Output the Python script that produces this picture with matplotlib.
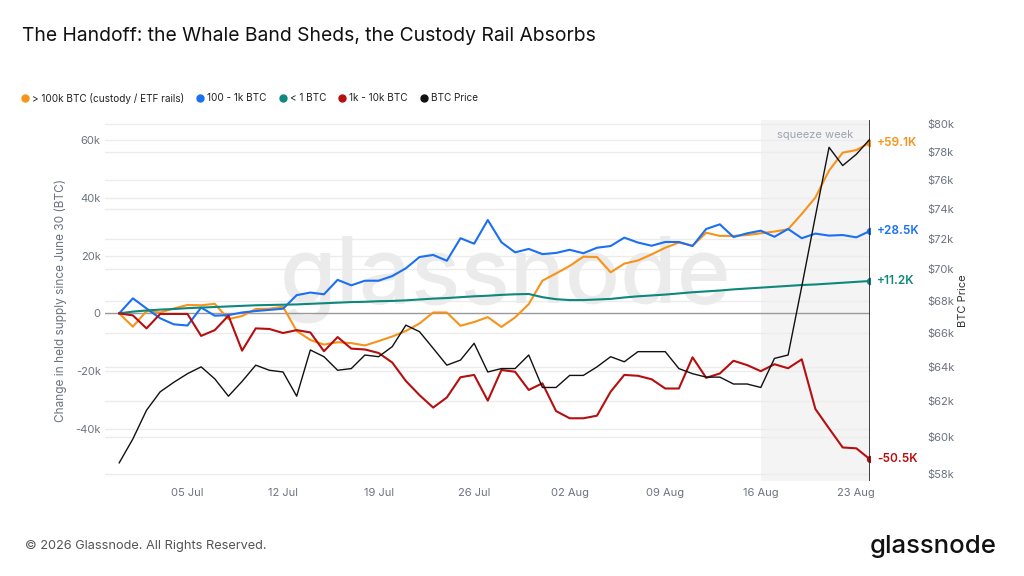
import numpy as np
import pandas as pd
import matplotlib
matplotlib.use("Agg")
import matplotlib.pyplot as plt
import matplotlib.transforms as mtransforms
from matplotlib.lines import Line2D
from matplotlib.ticker import FixedLocator, NullLocator

plt.rcParams['font.family'] = ['Inter', 'DejaVu Sans']

# ---------------- data ----------------
dates = pd.date_range('2026-06-30', periods=56, freq='D')

custody_100k = [0, -4.6, 0.8, 0.3, 1.7, 2.9, 2.8, 3.3, -2.0, -0.9,
                1.5, 1.6, 2.3, -6.1, -9.2, -10.8, -10.0, -10.3, -11.1, -9.6,
                -8.0, -6.1, -3.5, 0.3, 0.3, -4.3, -3.0, -1.3, -4.7, -1.4,
                3.2, 11.3, 13.8, 16.4, 19.6, 19.5, 14.2, 17.2, 18.3, 20.4,
                22.7, 24.5, 23.4, 27.9, 26.8, 26.8, 27.1, 27.7, 28.3, 29.1,
                34.4, 40.1, 49.4, 55.6, 56.5, 59.1]
band_100_1k = [0, 5.2, 1.7, -1.7, -3.8, -4.2, 2.0, -0.8, -0.6, 0.3,
               0.8, 1.2, 1.6, 6.3, 7.2, 6.6, 11.6, 9.7, 11.3, 11.3,
               12.9, 15.6, 19.5, 20.2, 18.2, 26.0, 24.1, 32.3, 24.6, 21.1,
               22.3, 20.5, 20.9, 22.0, 20.8, 22.7, 23.3, 26.2, 24.5, 23.4,
               24.7, 24.7, 23.3, 29.2, 30.8, 26.4, 27.7, 28.6, 26.5, 29.2,
               26.0, 27.6, 26.9, 27.1, 26.3, 28.5]
band_lt1 = [0, 0.6, 1.0, 1.3, 1.5, 1.8, 2.0, 2.2, 2.4, 2.6,
            2.8, 2.9, 3.0, 3.1, 3.3, 3.5, 3.7, 3.9, 4.0, 4.2,
            4.3, 4.5, 4.8, 5.1, 5.3, 5.6, 5.9, 6.1, 6.4, 6.6,
            6.7, 5.6, 4.9, 4.6, 4.6, 4.8, 5.0, 5.5, 5.9, 6.2,
            6.5, 6.9, 7.3, 7.6, 7.9, 8.3, 8.6, 8.9, 9.2, 9.5,
            9.8, 10.0, 10.3, 10.6, 10.9, 11.2]
band_1k_10k = [0, -0.7, -5.2, -0.2, -0.2, -0.2, -7.8, -5.8, -0.8, -12.9,
               -5.2, -5.4, -6.8, -5.8, -6.6, -13.1, -8.2, -12.2, -12.5, -13.7,
               -17.0, -23.4, -28.3, -32.6, -29.1, -22.1, -21.3, -30.2, -19.6, -20.2,
               -26.5, -24.2, -33.8, -36.3, -36.3, -35.4, -27.1, -21.3, -21.6, -22.8,
               -26.0, -26.0, -15.2, -22.3, -20.8, -16.4, -17.9, -20.0, -17.6, -19.0,
               -15.9, -33.1, -39.8, -46.4, -46.7, -50.5]
btc_price = [58.6, 59.9, 61.5, 62.55, 63.1, 63.6, 64.0, 63.3, 62.3, 63.15,
             64.1, 63.8, 63.7, 62.3, 65.0, 64.6, 63.8, 63.9, 64.7, 64.6,
             65.2, 66.5, 66.1, 65.1, 64.1, 64.4, 65.4, 63.7, 63.9, 63.9,
             64.7, 62.8, 62.8, 63.5, 63.5, 64.0, 64.6, 64.3, 64.9, 64.9,
             64.9, 63.9, 63.6, 63.4, 63.4, 63.0, 63.0, 62.8, 64.5, 64.7,
             68.9, 73.5, 78.3, 77.0, 77.8, 78.9]

series_labels = ['> 100k BTC (custody / ETF rails)', '100 - 1k BTC', '< 1 BTC',
                 '1k - 10k BTC']
price_label = 'BTC Price'
end_labels = ['+59.1K', '+28.5K', '+11.2K', '-50.5K']
left_ticks = [-40000, -20000, 0, 20000, 40000, 60000]
left_tick_labels = ['-40k', '-20k', '0', '20k', '40k', '60k']
right_ticks = [58000, 60000, 62000, 64000, 66000, 68000, 70000, 72000,
               74000, 76000, 78000, 80000]
right_tick_labels = ['$58k', '$60k', '$62k', '$64k', '$66k', '$68k', '$70k',
                     '$72k', '$74k', '$76k', '$78k', '$80k']
x_tick_dates = pd.to_datetime(['2026-07-05', '2026-07-12', '2026-07-19', '2026-07-26',
                               '2026-08-02', '2026-08-09', '2026-08-16', '2026-08-23'])
squeeze_start = pd.Timestamp('2026-08-16')
squeeze_end = pd.Timestamp('2026-08-24')

# ---------------- style ----------------
colors = ['#f7931a', '#1a6ff2', '#0e877c', '#b50f0f']
price_color = '#111111'
grid_color = '#ececec'
tick_color = '#6b7280'

fig = plt.figure(figsize=(10.24, 5.76), dpi=100)
L, R, T, B = 105, 870, 120, 481
ax = fig.add_axes([L / 1024, 1 - B / 576, (R - L) / 1024, (B - T) / 576])
ax2 = ax.twinx()

x = dates
series = [custody_100k, band_100_1k, band_lt1, band_1k_10k]

ax.set_xlim(dates[0] - pd.Timedelta(hours=25), dates[-1])
ax.set_ylim(-58000, 66900)
ax2.set_yscale('log')
ax2.set_ylim(57630, 80290)

# shading
ax.axvspan(squeeze_start, squeeze_end, color='#f4f4f4', zorder=0, lw=0)
ax.text(squeeze_start + (squeeze_end - squeeze_start) / 2, 0.958, 'squeeze week',
        transform=mtransforms.blended_transform_factory(ax.transData, ax.transAxes),
        ha='center', va='center', fontsize=8, color='#9ca3af', zorder=1)

# watermark
ax.text(0.523, 0.56, 'glassnode', transform=ax.transAxes, fontsize=66,
        color='#ebebeb', ha='center', va='center', zorder=0.6, fontweight='medium')

# gridlines (left)
for v in left_ticks:
    if v == 0:
        continue
    ax.axhline(v, color=grid_color, lw=1.0, zorder=0.5)
# gridlines (right, drawn on ax with price transform)
btf = mtransforms.blended_transform_factory(ax.transAxes, ax2.transData)
for p in right_ticks:
    ax.plot([0, 1], [p, p], transform=btf, color=grid_color, lw=1.0, zorder=0.5)
ax.axhline(0, color='#9a9a9a', lw=1.0, zorder=0.8)

# series
for vals, c in zip(series, colors):
    ax.plot(x, np.array(vals) * 1000, color=c, lw=1.5, zorder=3)
    ax.scatter([x[-1]], [vals[-1] * 1000], s=28, color=c, zorder=5, lw=0)
for vals, c, lab in zip(series, colors, end_labels):
    ax.annotate(lab, (x[-1], vals[-1] * 1000), xytext=(5, 0), textcoords='offset points',
                ha='left', va='center', fontsize=8.5, color=c, fontweight='semibold',
                annotation_clip=False)

ax2.plot(x, np.array(btc_price) * 1000, color=price_color, lw=1.0, zorder=4)

ax.axvline(dates[-1], color='#222222', lw=1.2, zorder=6)

# axes styling
for a in (ax, ax2):
    for s in a.spines.values():
        s.set_visible(False)
ax.set_yticks(left_ticks)
ax.set_yticklabels(left_tick_labels)
ax.tick_params(axis='y', length=0, pad=3, labelsize=8, labelcolor=tick_color)
ax.set_xticks(x_tick_dates)
ax.set_xticklabels([d.strftime('%d %b') for d in x_tick_dates])
ax.tick_params(axis='x', length=0, pad=5, labelsize=8, labelcolor=tick_color)
ax.set_ylabel('Change in held supply since June 30 (BTC)', fontsize=8.5,
              color=tick_color, labelpad=6)

ax2.yaxis.set_major_locator(FixedLocator(right_ticks))
ax2.yaxis.set_minor_locator(NullLocator())
ax2.set_yticklabels(right_tick_labels)
ax2.tick_params(axis='y', which='both', length=0, pad=41, labelsize=8, labelcolor=tick_color)
ax2.set_ylabel(price_label, fontsize=8, color='#333333', labelpad=3)

# title
fig.text(22 / 1024, 1 - 36 / 576, 'The Handoff: the Whale Band Sheds, the Custody Rail Absorbs',
         fontsize=13.9, color='#111111', ha='left', va='center')

# legend
legend_labels = series_labels + [price_label]
legend_colors = colors + [price_color]
legend_x = [25, 200, 283, 342, 424]
ly = 1 - 98 / 576
for lx, lab, c in zip(legend_x, legend_labels, legend_colors):
    fig.add_artist(Line2D([lx / 1024], [ly], marker='o', markersize=5, color=c,
                          transform=fig.transFigure, lw=0))
    fig.text((lx + 7) / 1024, ly, lab, fontsize=7.2, color='#222222', ha='left', va='center')

# footer
fig.text(25 / 1024, 1 - 546 / 576, '\u00a9 2026 Glassnode. All Rights Reserved.',
         fontsize=9.2, color='#555555', ha='left', va='center')
fig.text(997 / 1024, 1 - 546 / 576, 'glassnode', fontsize=18.5, color='#111111',
         ha='right', va='center', fontweight='medium')

fig.savefig('out.png', dpi=100)
